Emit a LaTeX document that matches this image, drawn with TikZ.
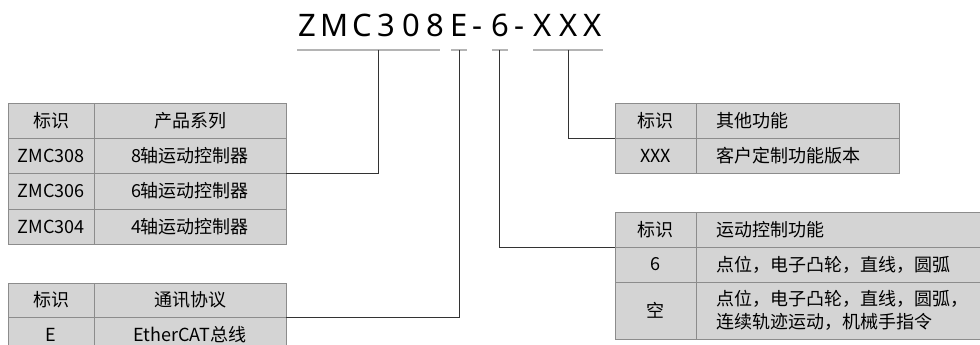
\documentclass[tikz,border=0pt]{standalone}
\usepackage{fontspec}
\setmainfont{Noto Sans CJK SC}
\newfontfamily\titlefont{Noto Sans}
\definecolor{cellfill}{HTML}{D4D4D4}
\definecolor{cellline}{HTML}{8C8C8C}
\definecolor{linkline}{HTML}{333333}
\definecolor{barline}{HTML}{B4B4B4}
\tikzset{
  cell/.style={draw=cellline, fill=cellfill, line width=0.8pt, inner sep=0pt,
    font=\fontsize{18}{23}\selectfont, text=black, anchor=center},
  lcell/.style={cell, inner xsep=20pt, align=left},
  titlechar/.style={font=\titlefont\fontsize{31}{31}\selectfont, anchor=base, inner sep=0pt, text=black},
  bar/.style={draw=barline, line width=1.6pt},
  link/.style={draw=linkline, line width=0.9pt}}
\begin{document}
\begin{tikzpicture}[x=1pt,y=-1pt]
\path[use as bounding box, clip] (0,0) rectangle (980,345);

% title
\foreach \c/\x [count=\i] in {Z/307,M/335,C/362,3/386,0/411,8/435,E/459,-/477,6/500,-/519,X/543,X/569,X/593}
  \node[titlechar] (t\i) at (\x,37) {\c};
\coordinate (b1s) at (297,50); \coordinate (b1e) at (440,50);
\coordinate (b2s) at (451,50); \coordinate (b2e) at (467,50);
\coordinate (b3s) at (492,50); \coordinate (b3e) at (508,50);
\coordinate (b4s) at (533,50); \coordinate (b4e) at (603,50);
\draw[bar] (b1s) -- (b1e);
\draw[bar] (b2s) -- (b2e);
\draw[bar] (b3s) -- (b3e);
\draw[bar] (b4s) -- (b4e);
\coordinate (u1) at (378,50);
\coordinate (u2) at (459,50);
\coordinate (u3) at (499,50);
\coordinate (u4) at (568,50);

% left table 1
\node[cell, minimum width=86pt, minimum height=35pt] (l1a0) at (51,120.5) {标识};
\node[cell, minimum width=192pt, minimum height=35pt] (l1b0) at (190,120.5) {产品系列};
\node[cell, minimum width=86pt, minimum height=35pt] (l1a1) at (51,155.5) {ZMC308};
\node[cell, minimum width=192pt, minimum height=35pt] (l1b1) at (190,155.5) {8轴运动控制器};
\node[cell, minimum width=86pt, minimum height=36pt] (l1a2) at (51,191) {ZMC306};
\node[cell, minimum width=192pt, minimum height=36pt] (l1b2) at (190,191) {6轴运动控制器};
\node[cell, minimum width=86pt, minimum height=35pt] (l1a3) at (51,226.5) {ZMC304};
\node[cell, minimum width=192pt, minimum height=35pt] (l1b3) at (190,226.5) {4轴运动控制器};

% left table 2
\node[cell, minimum width=86pt, minimum height=34pt] (l2a0) at (51,300) {标识};
\node[cell, minimum width=192pt, minimum height=34pt] (l2b0) at (190,300) {通讯协议};
\node[cell, minimum width=86pt, minimum height=35pt] (l2a1) at (51,334.5) {E};
\node[cell, minimum width=192pt, minimum height=35pt] (l2b1) at (190,334.5) {EtherCAT总线};

% right table 1
\node[cell, minimum width=81pt, minimum height=35pt] (r1a0) at (655.5,120.5) {标识};
\node[lcell, text width=163pt, minimum width=203pt, minimum height=35pt] (r1b0) at (797.5,120.5) {其他功能};
\node[cell, minimum width=81pt, minimum height=35pt] (r1a1) at (655.5,155.5) {XXX};
\node[lcell, text width=163pt, minimum width=203pt, minimum height=35pt] (r1b1) at (797.5,155.5) {客户定制功能版本};

% right table 2
\node[cell, minimum width=81pt, minimum height=35pt] (r2a0) at (655.5,229.5) {标识};
\node[lcell, text width=254pt, minimum width=294pt, minimum height=35pt] (r2b0) at (843,229.5) {运动控制功能};
\node[cell, minimum width=81pt, minimum height=35pt] (r2a1) at (655.5,264.5) {6};
\node[lcell, text width=254pt, minimum width=294pt, minimum height=35pt] (r2b1) at (843,264.5) {点位，电子凸轮，直线，圆弧};
\node[cell, minimum width=81pt, minimum height=57pt] (r2a2) at (655.5,310.5) {空};
\node[lcell, text width=254pt, minimum width=294pt, minimum height=57pt] (r2b2) at (843,310.5) {点位，电子凸轮，直线，圆弧，\\连续轨迹运动，机械手指令};

% connectors
\draw[link] (u1) |- (l1b1.south east);
\draw[link] (u2) |- (l2b0.south east);
\draw[link] (u3) |- (r2a0.south west);
\draw[link] (u4) |- (r1a0.south west);
\end{tikzpicture}
\end{document}
